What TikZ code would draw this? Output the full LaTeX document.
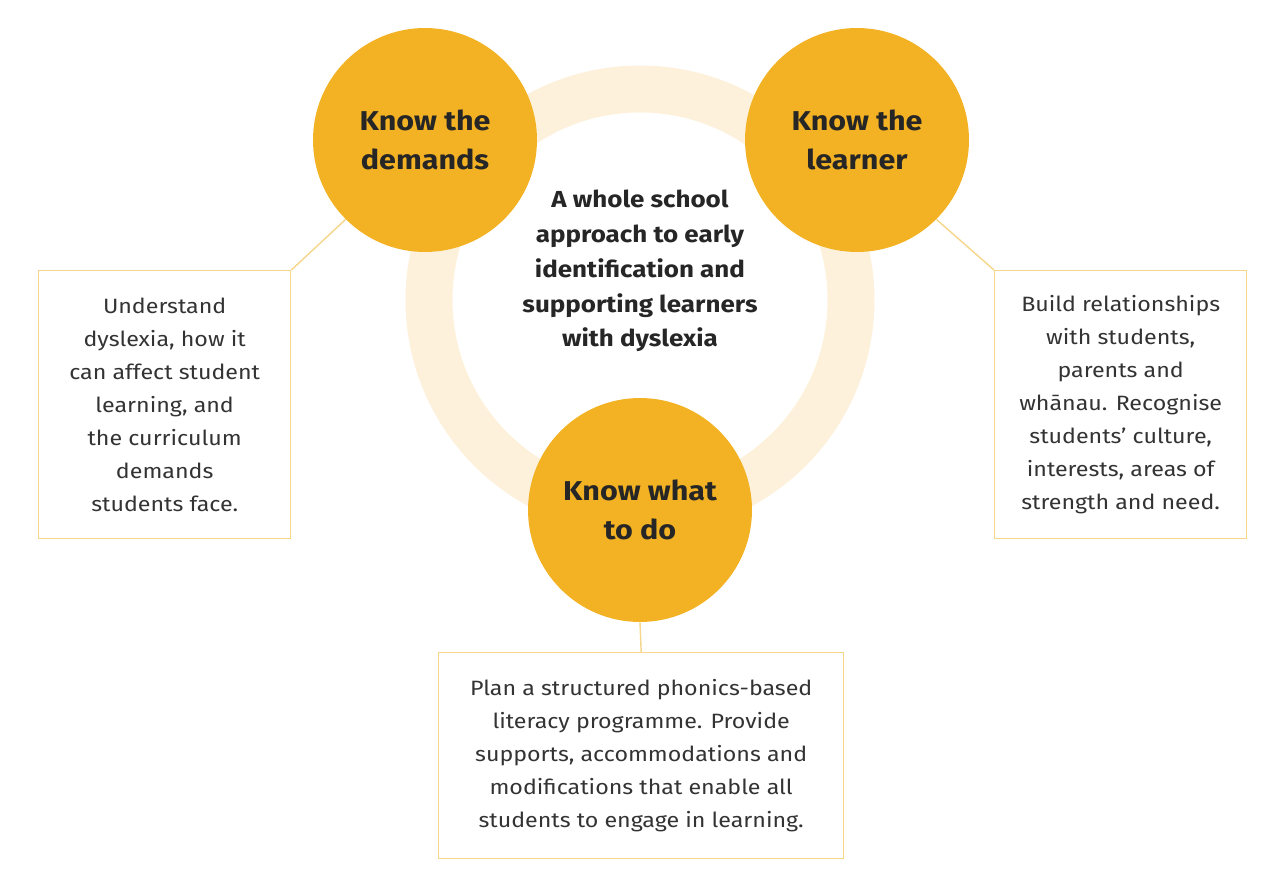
\documentclass[tikz,border=0pt]{standalone}
\usepackage{fontspec}
\setmainfont{Fira Sans}[FakeStretch=1.12]
\definecolor{gold}{HTML}{F2B223}
\definecolor{ring}{HTML}{FDF1DC}
\definecolor{edge}{HTML}{F5D68A}
\begin{document}
\begin{tikzpicture}[x=0.02cm,y=-0.02cm,
key/.style={%
circle,
fill=gold,
minimum size=4.48cm,
align=center,
font=\fontsize{15.5}{22}\selectfont\bfseries,
text=black!85
},
note/.style={%
draw=edge,
line width=0.8pt,
align=center,
font=\fontsize{11.8}{18.8}\selectfont,
text=black!80,
inner sep=0pt
},
link/.style={%
draw=edge,
line width=0.8pt
},
]
\useasboundingbox (0,0) rectangle (1280,888);
%% Ring
\draw[ring,line width=0.94cm] (640,300) circle (211*0.02cm);
%% Circles
\node[key](dem)at(425,140){Know the\\demands};
\node[key](lrn)at(857,140){Know the\\learner};
\node[key](todo)at(640,510){Know what\\to do};
\node[align=center,font=\fontsize{13.2}{19.8}\selectfont\bfseries,text=black!85](mid)at(640,271){A whole school\\approach to early\\identification and\\supporting learners\\with dyslexia};
%% Boxes
\node[note,minimum width=5.04cm,minimum height=5.36cm,anchor=north west](bl)at(38,270){Understand\\dyslexia, how it\\can affect student\\learning, and\\the curriculum\\demands\\students face.};
\node[note,minimum width=5.04cm,minimum height=5.36cm,anchor=north west](br)at(994,270){Build relationships\\with students,\\parents and\\wh\={a}nau. Recognise\\students' culture,\\interests, areas of\\strength and need.};
\node[note,minimum width=8.1cm,minimum height=4.12cm,anchor=north west](bb)at(438,652){Plan a structured phonics-based\\literacy programme. Provide\\supports, accommodations and\\modifications that enable all\\students to engage in learning.};
%% Links
\draw[link] (bl.north east)--(dem.225);
\draw[link] (br.north west)--(lrn.-45);
\draw[link] (bb.north)--(todo.south);
\end{tikzpicture}
\end{document}
